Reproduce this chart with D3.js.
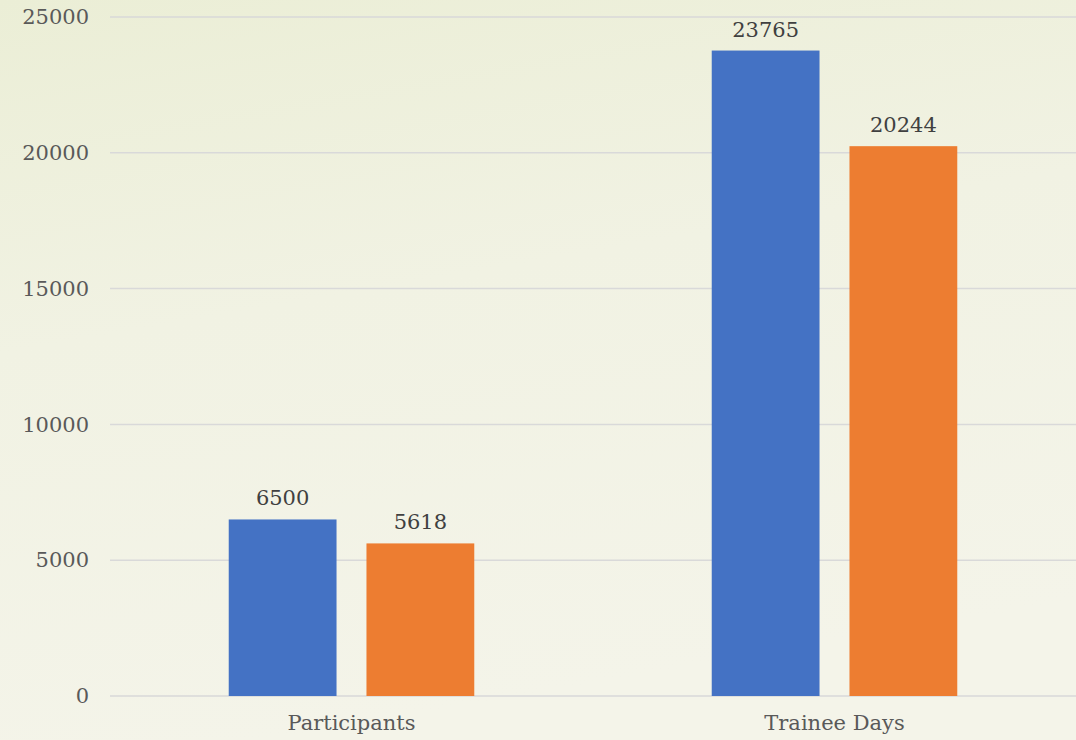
<!DOCTYPE html>
<html><head><meta charset="utf-8">
<script src="https://cdn.jsdelivr.net/npm/d3@7"></script>
<style>
html,body{margin:0;padding:0;}
body{width:1076px;height:740px;overflow:hidden;}
</style></head>
<body>
<svg id="c" width="1076" height="740"></svg>
<script>
const categories = ["Participants", "Trainee Days"];
const seriesNames = ["Series A", "Series B"];
const seriesA = [6500, 23765];
const seriesB = [5618, 20244];
const yTicks = [0, 5000, 10000, 15000, 20000, 25000];
const colors = ["#4472C4", "#ED7D31"];

const W = 1076, H = 740;
const m = {left: 110, right: 0, top: 17, bottom: 44};
const svg = d3.select("#c");
const defs = svg.append("defs");
const g1 = defs.append("linearGradient").attr("id","bg").attr("x1","0").attr("y1","0").attr("x2","0.25").attr("y2","1");
g1.append("stop").attr("offset","0").attr("stop-color","#ebeed6");
g1.append("stop").attr("offset","0.45").attr("stop-color","#f1f2e3");
g1.append("stop").attr("offset","1").attr("stop-color","#f4f4e9");
svg.append("rect").attr("width",W).attr("height",H).attr("fill","url(#bg)");

const x = d3.scaleBand().domain(categories).range([m.left, W - m.right]).paddingInner(0).paddingOuter(0);
const xs = d3.scaleBand().domain(seriesNames).range([0, x.bandwidth()]).paddingInner(0.2174).paddingOuter(0.862);
const y = d3.scaleLinear().domain([0, 25000]).range([H - m.bottom, m.top]);

const font = "'DejaVu Serif', Georgia, serif";

// gridlines
svg.append("g").selectAll("line").data(yTicks).join("line")
  .attr("x1", m.left).attr("x2", W - m.right)
  .attr("y1", d => y(d)).attr("y2", d => y(d))
  .attr("stroke", "#d9d9d9").attr("stroke-width", 1.5);

// y tick labels via axis
const yAxis = svg.append("g").attr("transform", `translate(${m.left},0)`)
  .call(d3.axisLeft(y).tickValues(yTicks).tickSize(0).tickPadding(21).tickFormat(d3.format("d")));
yAxis.select(".domain").remove();
yAxis.selectAll("text").attr("font-family", font).attr("font-size", 21).attr("fill", "#595959");

// x labels
const xAxis = svg.append("g").attr("transform", `translate(0,${H - m.bottom})`)
  .call(d3.axisBottom(x).tickSize(0).tickPadding(19));
xAxis.select(".domain").remove();
xAxis.selectAll("text").attr("font-family", font).attr("font-size", 21).attr("fill", "#595959");

const data = categories.map((c, i) => ({cat: c, vals: [seriesA[i], seriesB[i]]}));
const groups = svg.append("g").selectAll("g").data(data).join("g")
  .attr("transform", d => `translate(${x(d.cat)},0)`);
groups.selectAll("rect").data(d => d.vals.map((v, j) => ({v, s: seriesNames[j], j}))).join("rect")
  .attr("x", d => xs(d.s)).attr("width", xs.bandwidth())
  .attr("y", d => y(d.v)).attr("height", d => y(0) - y(d.v))
  .attr("fill", d => colors[d.j]);
groups.selectAll("text.lbl").data(d => d.vals.map((v, j) => ({v, s: seriesNames[j], j}))).join("text")
  .attr("class", "lbl")
  .attr("x", d => xs(d.s) + xs.bandwidth() / 2).attr("y", d => y(d.v) - 14)
  .attr("text-anchor", "middle").attr("font-family", font).attr("font-size", 21)
  .attr("fill", "#404040").text(d => d.v);
</script>
</body></html>
